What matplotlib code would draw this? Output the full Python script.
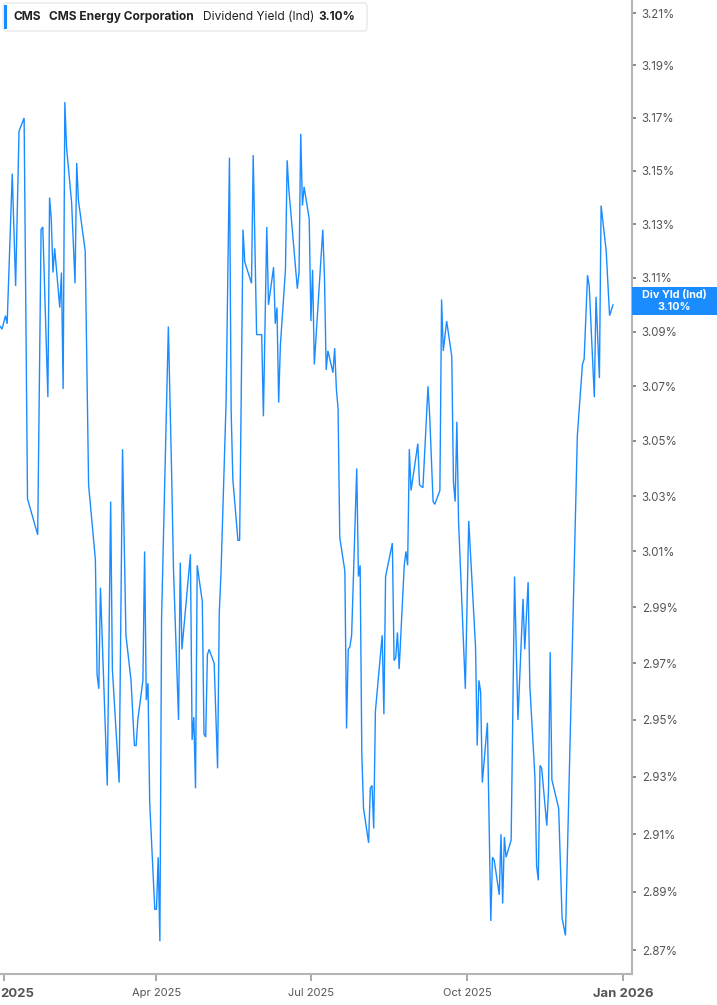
import matplotlib
matplotlib.use("Agg")
import matplotlib.pyplot as plt
import matplotlib.dates as mdates
import matplotlib.transforms as mtransforms
from matplotlib.patches import Rectangle, FancyBboxPatch
from matplotlib.ticker import FixedLocator, NullLocator
import pandas as pd

# dividend yield (ind), %
dates = [
    "2024-12-30", "2024-12-31", "2025-01-02", "2025-01-03", "2025-01-06", "2025-01-08", "2025-01-10", "2025-01-13", "2025-01-15", "2025-01-21",
    "2025-01-23", "2025-01-24", "2025-01-27", "2025-01-28", "2025-01-29", "2025-01-30", "2025-01-31", "2025-02-03", "2025-02-04", "2025-02-05",
    "2025-02-06", "2025-02-07", "2025-02-10", "2025-02-11", "2025-02-12", "2025-02-13", "2025-02-14", "2025-02-18", "2025-02-20", "2025-02-24",
    "2025-02-25", "2025-02-26", "2025-02-27", "2025-03-03", "2025-03-05", "2025-03-06", "2025-03-10", "2025-03-12", "2025-03-14", "2025-03-17",
    "2025-03-19", "2025-03-20", "2025-03-21", "2025-03-24", "2025-03-25", "2025-03-26", "2025-03-27", "2025-03-28", "2025-03-31", "2025-04-01",
    "2025-04-02", "2025-04-03", "2025-04-04", "2025-04-08", "2025-04-10", "2025-04-11", "2025-04-14", "2025-04-15", "2025-04-16", "2025-04-21",
    "2025-04-22", "2025-04-23", "2025-04-24", "2025-04-25", "2025-04-28", "2025-04-29", "2025-04-30", "2025-05-01", "2025-05-02", "2025-05-05",
    "2025-05-07", "2025-05-08", "2025-05-09", "2025-05-12", "2025-05-14", "2025-05-15", "2025-05-16", "2025-05-19", "2025-05-20", "2025-05-22",
    "2025-05-23", "2025-05-27", "2025-05-28", "2025-05-30", "2025-06-02", "2025-06-03", "2025-06-05", "2025-06-06", "2025-06-09", "2025-06-10",
    "2025-06-11", "2025-06-12", "2025-06-13", "2025-06-16", "2025-06-17", "2025-06-18", "2025-06-23", "2025-06-24", "2025-06-25", "2025-06-26",
    "2025-06-27", "2025-06-30", "2025-07-01", "2025-07-02", "2025-07-03", "2025-07-08", "2025-07-09", "2025-07-10", "2025-07-11", "2025-07-14",
    "2025-07-15", "2025-07-16", "2025-07-17", "2025-07-18", "2025-07-21", "2025-07-22", "2025-07-23", "2025-07-24", "2025-07-25", "2025-07-28",
    "2025-07-29", "2025-07-30", "2025-07-31", "2025-08-01", "2025-08-04", "2025-08-05", "2025-08-06", "2025-08-07", "2025-08-08", "2025-08-12",
    "2025-08-13", "2025-08-14", "2025-08-18", "2025-08-19", "2025-08-20", "2025-08-21", "2025-08-22", "2025-08-25", "2025-08-26", "2025-08-27",
    "2025-08-28", "2025-08-29", "2025-09-02", "2025-09-03", "2025-09-05", "2025-09-08", "2025-09-09", "2025-09-11", "2025-09-12", "2025-09-15",
    "2025-09-16", "2025-09-17", "2025-09-19", "2025-09-22", "2025-09-23", "2025-09-24", "2025-09-25", "2025-09-26", "2025-09-30", "2025-10-02",
    "2025-10-06", "2025-10-07", "2025-10-08", "2025-10-09", "2025-10-10", "2025-10-13", "2025-10-15", "2025-10-16", "2025-10-17", "2025-10-20",
    "2025-10-21", "2025-10-22", "2025-10-23", "2025-10-24", "2025-10-27", "2025-10-29", "2025-10-31", "2025-11-03", "2025-11-04", "2025-11-06",
    "2025-11-07", "2025-11-10", "2025-11-11", "2025-11-12", "2025-11-13", "2025-11-14", "2025-11-17", "2025-11-18", "2025-11-19", "2025-11-20",
    "2025-11-24", "2025-11-26", "2025-11-28", "2025-12-02", "2025-12-05", "2025-12-08", "2025-12-09", "2025-12-11", "2025-12-12", "2025-12-15",
    "2025-12-16", "2025-12-18", "2025-12-19", "2025-12-22", "2025-12-24", "2025-12-26",
]
div_yield = [
    3.092, 3.091, 3.096, 3.093, 3.149, 3.107, 3.165, 3.170, 3.029, 3.016,
    3.128, 3.129, 3.066, 3.140, 3.132, 3.112, 3.121, 3.099, 3.112, 3.069,
    3.176, 3.159, 3.138, 3.123, 3.108, 3.153, 3.139, 3.120, 3.034, 3.007,
    2.966, 2.961, 2.997, 2.927, 3.028, 2.968, 2.928, 3.047, 2.980, 2.964,
    2.941, 2.941, 2.950, 2.964, 3.010, 2.957, 2.963, 2.921, 2.884, 2.884,
    2.902, 2.873, 2.986, 3.092, 3.036, 3.004, 2.950, 3.006, 2.975, 3.009,
    2.943, 2.951, 2.926, 3.005, 2.992, 2.945, 2.944, 2.973, 2.975, 2.970,
    2.933, 2.988, 3.002, 3.064, 3.155, 3.061, 3.036, 3.014, 3.014, 3.128,
    3.116, 3.108, 3.156, 3.089, 3.089, 3.059, 3.129, 3.100, 3.114, 3.093,
    3.099, 3.064, 3.085, 3.113, 3.154, 3.143, 3.106, 3.112, 3.164, 3.137,
    3.144, 3.132, 3.094, 3.113, 3.078, 3.128, 3.110, 3.076, 3.083, 3.075,
    3.084, 3.069, 3.062, 3.015, 3.003, 2.947, 2.975, 2.976, 2.980, 3.040,
    3.001, 3.005, 2.938, 2.919, 2.907, 2.926, 2.927, 2.912, 2.953, 2.980,
    2.952, 3.001, 3.013, 2.971, 2.972, 2.981, 2.968, 3.005, 3.010, 3.005,
    3.047, 3.032, 3.049, 3.034, 3.033, 3.070, 3.059, 3.028, 3.027, 3.032,
    3.102, 3.083, 3.094, 3.081, 3.035, 3.028, 3.057, 3.021, 2.961, 3.021,
    2.976, 2.941, 2.964, 2.960, 2.928, 2.949, 2.880, 2.902, 2.901, 2.889,
    2.910, 2.886, 2.909, 2.902, 2.908, 3.001, 2.950, 2.993, 2.975, 2.999,
    2.962, 2.930, 2.899, 2.894, 2.934, 2.933, 2.913, 2.925, 2.974, 2.929,
    2.919, 2.881, 2.875, 2.974, 3.052, 3.078, 3.080, 3.111, 3.107, 3.066,
    3.103, 3.073, 3.137, 3.120, 3.096, 3.100,
]

ticker = "CMS"
company = "CMS Energy Corporation"
metric = "Dividend Yield (Ind)"
short_metric = "Div Yld (Ind)"
last_label = "3.10%"

ytick_vals = [2.87, 2.89, 2.91, 2.93, 2.95, 2.97, 2.99, 3.01, 3.03, 3.05,
              3.07, 3.09, 3.11, 3.13, 3.15, 3.17, 3.19, 3.21]
xtick_dates = ["2025-01-01", "2025-04-01", "2025-07-01", "2025-10-01", "2026-01-01"]
xtick_labels = ["2025", "Apr 2025", "Jul 2025", "Oct 2025", "Jan 2026"]

blue = "#1a8cff"
W, H = 717, 1005

df = pd.DataFrame({"date": pd.to_datetime(dates), "yld": div_yield})

plt.rcParams["font.family"] = ["Inter", "DejaVu Sans"]
fig = plt.figure(figsize=(W / 100, H / 100), dpi=100)
ax = fig.add_axes([0, 1 - 974 / H, 632 / W, 974 / H])

ax.plot(df["date"], df["yld"], color=blue, lw=1.0, solid_joinstyle="miter")

ax.set_yscale("log")
ax.set_ylim(2.8618, 3.215)
ax.set_xlim(pd.Timestamp("2024-12-29 19:00"), pd.Timestamp("2026-01-06 05:00"))

ax.yaxis.tick_right()
ax.yaxis.set_major_locator(FixedLocator(ytick_vals))
ax.yaxis.set_minor_locator(NullLocator())
ax.set_yticklabels(["%.2f%%" % v for v in ytick_vals])
ax.tick_params(axis="y", which="major", length=3, width=1.2, color="#777777",
               labelsize=8.3, labelcolor="#555555", pad=4)

xt = pd.to_datetime(xtick_dates)
ax.set_xticks(xt)
ax.set_xticklabels(xtick_labels)
ax.tick_params(axis="x", length=5, width=1.2, color="#999999",
               labelsize=8, labelcolor="#555555", pad=5)
for i, lab in enumerate(ax.get_xticklabels()):
    if i == 0 or i == len(xtick_labels) - 1:
        lab.set_fontweight("bold")
        lab.set_fontsize(9.4)
        lab.set_color("#555555")
    if i == 0:
        lab.set_horizontalalignment("left")
        lab.set_transform(lab.get_transform() +
                          mtransforms.ScaledTranslation(-3 / 100, 0, fig.dpi_scale_trans))

for s in ["left", "top"]:
    ax.spines[s].set_visible(False)
for s in ["right", "bottom"]:
    ax.spines[s].set_color("#b5b5b5")
    ax.spines[s].set_linewidth(1.5)


def fx(x):
    return x / W


def fy(y):
    return 1 - y / H


# header box
fig.patches.append(FancyBboxPatch((fx(3), fy(31)), fx(364), 28 / H,
                                  boxstyle="round,pad=0,rounding_size=0.004",
                                  transform=fig.transFigure, facecolor="white",
                                  edgecolor="#e2e2e2", lw=0.8))
fig.patches.append(Rectangle((fx(4), fy(29)), fx(3), 24 / H, transform=fig.transFigure,
                             facecolor=blue, edgecolor="none"))
hdr = dict(va="center", fontsize=8.6, color="#222222")
fig.text(fx(14), fy(17), ticker, fontweight="bold", **hdr)
fig.text(fx(49), fy(17), company, fontweight="bold", **hdr)
fig.text(fx(203), fy(17), metric, **hdr)
fig.text(fx(318), fy(17), last_label, fontweight="bold", **hdr)

# last value tag on the right axis
fig.canvas.draw()
last_y = ax.transData.transform((mdates.date2num(df["date"].iloc[-1]), df["yld"].iloc[-1]))[1]
tag_c = last_y + 4  # display px, tag sits a little above the value
fig.patches.append(Rectangle((fx(632), (tag_c - 14) / H), fx(85), 28 / H,
                             transform=fig.transFigure, facecolor=blue, edgecolor="none"))
fig.text(fx(674), (tag_c + 6) / H, short_metric, color="white", fontweight="bold",
         fontsize=7.8, ha="center", va="center")
fig.text(fx(674), (tag_c - 6) / H, last_label, color="white", fontweight="bold",
         fontsize=7.8, ha="center", va="center")

fig.savefig("out.png", dpi=100)
